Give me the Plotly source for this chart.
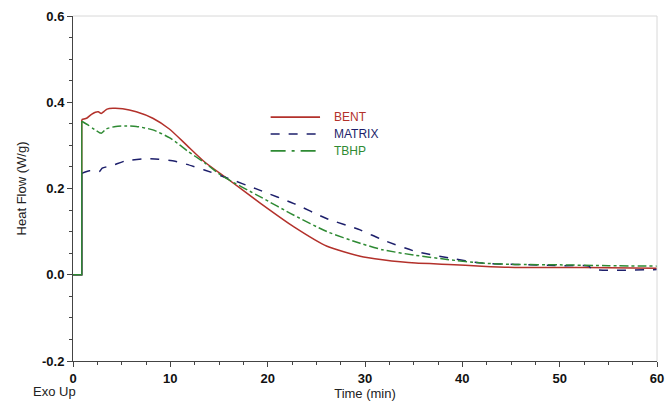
import plotly.graph_objects as go

# ---- data ----
bent_t = [0, 0.9, 0.9, 1.4, 1.9, 2.3, 2.6, 2.9, 3.2, 3.5, 4.1, 5.1, 6.5, 8.2, 9.9,
          11.7, 13.5, 15.9, 19.3, 22.7, 26.1, 29.5, 31.8, 35.2, 38.6, 42.0, 45.4, 50, 55, 60]
bent_v = [0, 0, 0.360, 0.363, 0.372, 0.377, 0.378, 0.374, 0.379, 0.384, 0.386, 0.385, 0.378, 0.363, 0.338,
          0.300, 0.262, 0.222, 0.165, 0.111, 0.066, 0.043, 0.035, 0.027, 0.024, 0.020, 0.017, 0.017, 0.016, 0.015]

matrix_t = [0, 0.9, 0.9, 1.7, 2.7, 3.0, 4.1, 5.4, 7.5, 8.8, 10.5, 11.7, 13.5, 15.4, 19.3,
            22.7, 26.1, 29.5, 31.8, 35.2, 38.6, 42.0, 45.4, 50, 53.0, 53.3, 60]
matrix_v = [0, 0, 0.235, 0.241, 0.239, 0.247, 0.254, 0.264, 0.269, 0.268, 0.263, 0.256, 0.243, 0.228, 0.195,
            0.165, 0.130, 0.104, 0.081, 0.054, 0.039, 0.027, 0.024, 0.021, 0.020, 0.013, 0.012]

tbhp_t = [0, 0.9, 0.9, 1.5, 2.2, 2.9, 3.4, 4.4, 5.4, 6.5, 8.2, 9.9, 10.9, 11.7, 13.5, 15.4,
          19.3, 22.7, 26.1, 29.5, 31.8, 35.2, 38.6, 42.0, 45.4, 50, 55, 60]
tbhp_v = [0, 0, 0.356, 0.348, 0.337, 0.328, 0.338, 0.344, 0.345, 0.344, 0.336, 0.318, 0.302, 0.288, 0.260, 0.228,
          0.180, 0.138, 0.100, 0.073, 0.058, 0.045, 0.035, 0.027, 0.024, 0.023, 0.021, 0.020]

series_names = ["BENT", "MATRIX", "TBHP"]
x_ticks = [0, 10, 20, 30, 40, 50, 60]
y_ticks = [-0.2, 0.0, 0.2, 0.4, 0.6]
y_tick_text = ["-0.2", "0.0", "0.2", "0.4", "0.6"]

RED = "#b3312b"
NAVY = "#1d1f6b"
GREEN = "#2e8a33"
FONT = "Liberation Sans, Arial, sans-serif"

series = [
    (series_names[0], bent_t, bent_v, RED, "solid"),
    (series_names[1], matrix_t, matrix_v, NAVY, "dash"),
    (series_names[2], tbhp_t, tbhp_v, GREEN, "dashdot"),
]

fig = go.Figure()
for name, t, v, col, dash in series:
    # step-up at the start (straight segments)
    fig.add_trace(go.Scatter(x=t[:3], y=v[:3], mode="lines", showlegend=False,
                             line=dict(color=col, width=1.4), hoverinfo="skip"))
    # the smooth response curve
    fig.add_trace(go.Scatter(x=t[2:], y=v[2:], mode="lines", name=name, showlegend=False,
                             line=dict(color=col, width=1.5, dash=dash,
                                       shape="spline", smoothing=0.6)))

# hand-drawn legend (line samples + coloured labels), as in the reference
def px_x(p):
    return (p - 73) / 591.0

def px_y(p):
    return (364 - p) / 348.0

shapes = [
    dict(type="line", xref="paper", yref="paper", x0=0, x1=1, y0=1, y1=1,
         line=dict(color="#d8d8d8", width=1)),
    dict(type="line", xref="paper", yref="paper", x0=1, x1=1, y0=0, y1=1,
         line=dict(color="#d8d8d8", width=1)),
]
annotations = [
    dict(text="Exo Up", xref="paper", yref="paper", x=px_x(30), y=px_y(395),
         xanchor="left", yanchor="middle", showarrow=False,
         font=dict(size=13, color="#222")),
]
leg_y = [118, 135, 152]
leg_dash = ["solid", "dash", "longdashdot"]
for (name, t, v, col, dash), ly, ld in zip(series, leg_y, leg_dash):
    shapes.append(dict(type="line", xref="paper", yref="paper",
                       x0=px_x(273), x1=px_x(323), y0=px_y(ly), y1=px_y(ly),
                       line=dict(color=col, width=1.6, dash=ld)))
    annotations.append(dict(text=name, xref="paper", yref="paper",
                            x=px_x(335), y=px_y(ly), xanchor="left", yanchor="middle",
                            showarrow=False, font=dict(size=12, color=col)))

fig.update_layout(
    width=672, height=404,
    margin=dict(l=73, r=8, t=16, b=40),
    paper_bgcolor="white", plot_bgcolor="white",
    font=dict(family=FONT, size=13, color="#222"),
    showlegend=False,
    xaxis=dict(range=[0, 60], tickvals=x_ticks, ticks="outside", ticklen=5,
               tickcolor="#444", showline=True, linecolor="#444", linewidth=1,
               showgrid=False, zeroline=False,
               minor=dict(dtick=2.5, ticks="outside", ticklen=3, tickcolor="#444"),
               title=dict(text="Time (min)", standoff=1, font=dict(size=13)),
               tickfont=dict(size=13, color="#111", weight="bold")),
    yaxis=dict(range=[-0.2, 0.6], tickvals=y_ticks, ticktext=y_tick_text,
               ticks="outside", ticklen=5, tickcolor="#444",
               showline=True, linecolor="#444", linewidth=1,
               showgrid=False, zeroline=False,
               minor=dict(dtick=0.05, ticks="outside", ticklen=3, tickcolor="#444"),
               title=dict(text="Heat Flow (W/g)", standoff=12, font=dict(size=13)),
               tickfont=dict(size=13, color="#111", weight="bold")),
    shapes=shapes,
    annotations=annotations,
)

fig.write_html("out.html")
